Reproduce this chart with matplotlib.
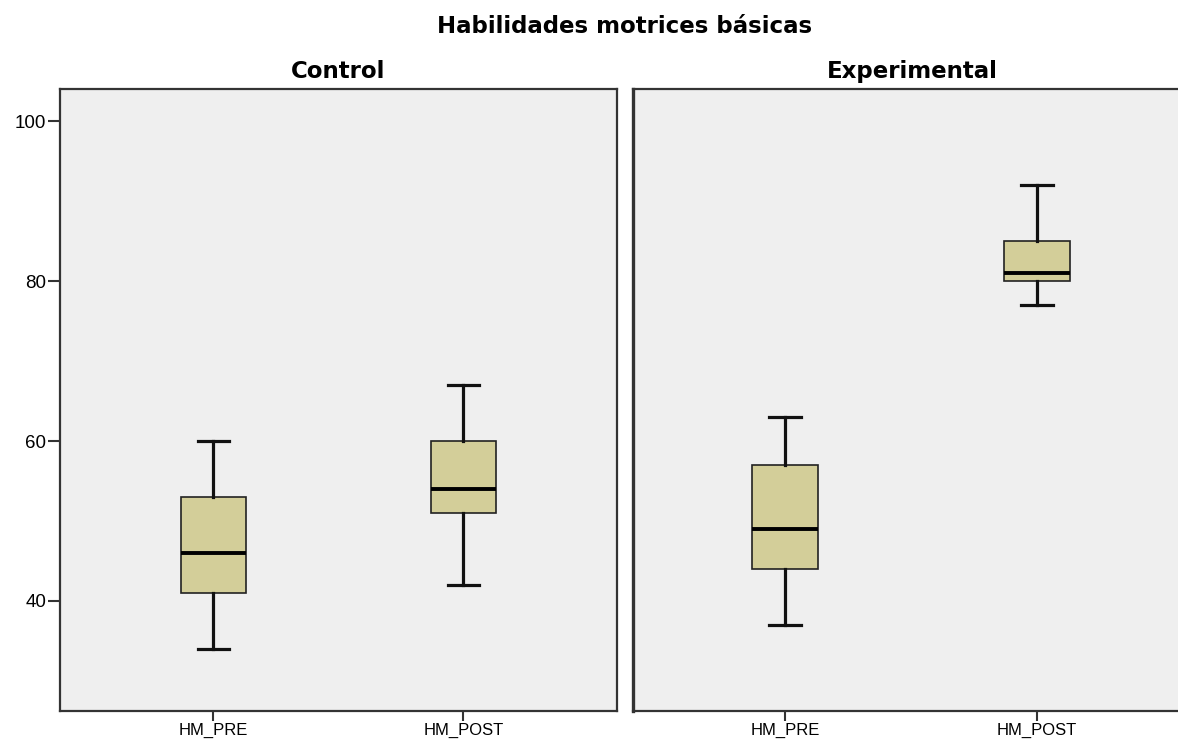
import matplotlib.pyplot as plt
import numpy as np

# five-number summaries per group (min, Q1, median, Q3, max)
variables = ["HM_PRE", "HM_POST"]
groups = ["Control", "Experimental"]
control_stats = [[34, 41, 46, 53, 60], [42, 51, 54, 60, 67]]
experimental_stats = [[37, 44, 49, 57, 63], [77, 80, 81, 85, 92]]

box_color = "#d3ce99"
panel_bg = "#efefef"
frame_color = "#333333"


def make_bxp(stats):
  out = []
  for s, name in zip(stats, variables):
    out.append({"whislo": s[0], "q1": s[1], "med": s[2], "q3": s[3],
                "whishi": s[4], "fliers": [], "label": name})
  return out


fig = plt.figure(figsize=(11.78, 7.40), dpi=100)
ax_c = fig.add_axes([0.0509, 0.0392, 0.4728, 0.8405])
# right panel runs a little past the figure edge
ax_e = fig.add_axes([0.5374, 0.0392, 0.4745, 0.8405])

for ax, title, stats in [(ax_c, groups[0], control_stats), (ax_e, groups[1], experimental_stats)]:
  ax.set_facecolor(panel_bg)
  ax.bxp(make_bxp(stats), positions=[1, 2], widths=0.26, patch_artist=True,
         showfliers=False,
         boxprops=dict(facecolor=box_color, edgecolor="#222222", linewidth=1.2),
         medianprops=dict(color="black", linewidth=2.8),
         whiskerprops=dict(color="#111111", linewidth=2.3),
         capprops=dict(color="#111111", linewidth=2.3),
         capwidths=0.125)
  ax.set_ylim(26.25, 104)
  ax.set_xticks([1, 2])
  ax.set_xticklabels(variables, fontsize=12, family="Liberation Sans")
  ax.tick_params(axis="x", length=7, width=1.5, color=frame_color, pad=1.5)
  for side in ["top", "bottom", "left", "right"]:
    ax.spines[side].set_color(frame_color)
    ax.spines[side].set_linewidth(1.6)
  ax.set_title(title, fontsize=16.5, fontweight="bold", family="DejaVu Sans", pad=8)

ax_c.set_xlim(0.387, 2.614)
ax_e.set_xlim(0.397, 2.614)

ax_c.set_yticks([40, 60, 80, 100])
ax_c.tick_params(axis="y", length=9, width=1.5, color=frame_color, labelsize=13.5, pad=1)
for lab in ax_c.get_yticklabels():
  lab.set_family("Liberation Sans")
ax_e.set_yticks([])
ax_e.spines["right"].set_visible(False)
ax_e.spines["left"].set_linewidth(2.4)

fig.text(0.53, 1 - 33 / 740, "Habilidades motrices básicas", fontsize=16.5,
         fontweight="bold", family="DejaVu Sans", ha="center", va="baseline")

fig.savefig("out.png", dpi=100)
